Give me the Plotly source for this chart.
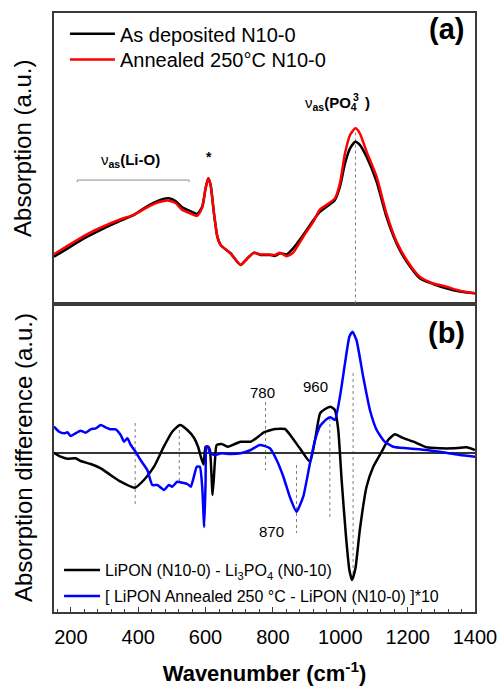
import plotly.graph_objects as go

# ---------------- Panel (a): absorption ----------------
wn_a = [150, 199, 249, 298, 348, 387, 417, 447, 472, 491, 511, 531, 551, 575, 590, 600, 608, 615,
        625, 635, 645, 674, 704, 724, 744, 763, 791, 806, 821, 841, 860, 890, 920, 940, 959, 984,
        999, 1014, 1029, 1045, 1058, 1078, 1108, 1137, 1167, 1197, 1236, 1276, 1315, 1355, 1400]
abs_deposited = [0.161, 0.196, 0.230, 0.259, 0.285, 0.305, 0.328, 0.347, 0.359, 0.362, 0.353, 0.331,
                 0.320, 0.308, 0.333, 0.396, 0.431, 0.408, 0.310, 0.230, 0.201, 0.173, 0.133, 0.155,
                 0.175, 0.167, 0.167, 0.164, 0.173, 0.169, 0.190, 0.236, 0.287, 0.316, 0.333, 0.356,
                 0.402, 0.482, 0.534, 0.557, 0.546, 0.505, 0.419, 0.299, 0.207, 0.144, 0.087, 0.067,
                 0.052, 0.041, 0.035]
abs_annealed = [0.170, 0.205, 0.239, 0.266, 0.290, 0.305, 0.325, 0.343, 0.352, 0.354, 0.346, 0.322,
                0.312, 0.302, 0.330, 0.396, 0.431, 0.408, 0.310, 0.230, 0.201, 0.173, 0.133, 0.155,
                0.175, 0.169, 0.169, 0.167, 0.175, 0.163, 0.175, 0.230, 0.282, 0.324, 0.339, 0.362,
                0.414, 0.517, 0.580, 0.603, 0.586, 0.523, 0.436, 0.310, 0.213, 0.150, 0.092, 0.069,
                0.058, 0.044, 0.035]

# ---------------- Panel (b): difference spectra ----------------
wn_b_black = [150, 170, 190, 214, 229, 259, 289, 318, 348, 390, 417, 447, 476, 501, 524, 546, 566,
              578, 586, 594, 600, 608, 613, 621, 628, 633, 648, 667, 687, 704, 734, 754, 773, 806,
              836, 855, 880, 910, 925, 940, 954, 971, 984, 994, 1004, 1017, 1027, 1035, 1045, 1058,
              1078, 1098, 1123, 1142, 1162, 1182, 1217, 1256, 1296, 1335, 1375, 1400]
diff_lipon_li3po4 = [0.003, -0.037, -0.057, -0.053, -0.080, -0.110, -0.153, -0.220, -0.287, -0.347,
                     -0.270, -0.137, 0.063, 0.213, 0.280, 0.230, 0.150, 0.060, -0.037, -0.115, 0.063,
                     0.063, 0.030, -0.420, -0.070, 0.080, 0.090, 0.063, 0.090, 0.113, 0.113, 0.157,
                     0.207, 0.240, 0.240, 0.163, 0.047, -0.087, 0.130, 0.397, 0.437, 0.463, 0.430,
                     0.230, -0.270, -0.837, -1.170, -1.270, -1.153, -0.770, -0.337, -0.137, 0.013,
                     0.130, 0.187, 0.157, 0.113, 0.057, 0.047, 0.047, 0.057, 0.030]

wn_b_blue = [150, 165, 180, 190, 199, 214, 229, 244, 259, 274, 289, 303, 318, 333, 348, 358, 368,
             378, 392, 407, 427, 442, 457, 477, 491, 501, 516, 531, 546, 556, 564, 574, 583, 590,
             596, 600, 603, 608, 613, 628, 648, 674, 704, 734, 761, 791, 811, 831, 850, 870, 890,
             910, 925, 940, 959, 971, 984, 999, 1014, 1027, 1036, 1048, 1068, 1088, 1108, 1132,
             1157, 1197, 1256, 1315, 1355, 1400]
diff_annealed_x10 = [0.263, 0.213, 0.197, 0.207, 0.170, 0.197, 0.223, 0.203, 0.237, 0.247, 0.280,
                     0.257, 0.237, 0.237, 0.180, 0.113, 0.147, 0.080, 0.013, -0.070, -0.170, -0.320,
                     -0.320, -0.370, -0.320, -0.337, -0.287, -0.297, -0.310, -0.337, -0.253, -0.137,
                     -0.137, -0.337, -0.740, -0.300, 0.063, 0.063, -0.003, -0.020, -0.003, -0.010,
                     -0.003, 0.030, 0.080, 0.047, -0.070, -0.237, -0.437, -0.587, -0.437, -0.103,
                     0.130, 0.270, 0.337, 0.357, 0.330, 0.563, 0.897, 1.163, 1.213, 1.130, 0.763,
                     0.430, 0.230, 0.113, 0.063, 0.047, 0.030, 0.003, -0.020, -0.037]

# peak markers (wavenumber, y-from, y-to)
marks_b = [(391, 0.30, -0.54), (522, 0.23, -0.30), (778, 0.51, -0.17),
           (870, -0.12, -0.80), (969, 0.35, -0.65), (1038, 0.80, -1.22)]
mark_a = (1045, 0.0, 0.60)

FONT = "Liberation Sans, Arial, sans-serif"
LW = 2.5

fig = go.Figure()
fig.add_trace(go.Scatter(x=wn_a, y=abs_deposited, name="As deposited N10-0", mode="lines",
                         line=dict(color="#000000", width=LW, shape="spline", smoothing=0.6),
                         xaxis="x2", yaxis="y2", legend="legend"))
fig.add_trace(go.Scatter(x=wn_a, y=abs_annealed, name="Annealed 250°C N10-0", mode="lines",
                         line=dict(color="#ff0000", width=LW, shape="spline", smoothing=0.6),
                         xaxis="x2", yaxis="y2", legend="legend2"))
fig.add_trace(go.Scatter(x=wn_b_black, y=diff_lipon_li3po4,
                         name="LiPON (N10-0) - Li<sub>3</sub>PO<sub>4</sub> (N0-10)", mode="lines",
                         line=dict(color="#000000", width=LW, shape="spline", smoothing=0.5),
                         xaxis="x", yaxis="y", legend="legend3"))
fig.add_trace(go.Scatter(x=wn_b_blue, y=diff_annealed_x10,
                         name="[ LiPON Annealed 250 °C - LiPON (N10-0) ]*10", mode="lines",
                         line=dict(color="#0000ff", width=LW, shape="spline", smoothing=0.5),
                         xaxis="x", yaxis="y", legend="legend4"))

shapes = []
for (xw, y0, y1) in marks_b:
    shapes.append(dict(type="line", xref="x", yref="y", x0=xw, x1=xw, y0=y0, y1=y1,
                       line=dict(color="#808080", width=1, dash="3px,3px"), layer="below"))
shapes.append(dict(type="line", xref="x2", yref="y2", x0=mark_a[0], x1=mark_a[0], y0=mark_a[1],
                   y1=mark_a[2], line=dict(color="#808080", width=1, dash="3px,3px"), layer="below"))
# bracket for Li-O
shapes.append(dict(type="path", xref="x2", yref="y2",
                   path="M 219,0.418 L 219,0.425 L 551,0.425 L 551,0.418",
                   line=dict(color="#8c8c8c", width=1)))

AX_COL = "#3a3a3a"
annotations = [
    dict(text="<b>(a)</b>", x=1316, y=0.945, xref="x2", yref="y2", showarrow=False,
         font=dict(size=29, color="#000", family=FONT)),
    dict(text="<b>(b)</b>", x=1316, y=1.20, xref="x", yref="y", showarrow=False,
         font=dict(size=29, color="#000", family=FONT)),
    dict(text="ν<sub><b>as</b></sub><b>(Li-O)</b>", x=378, y=0.494, xref="x2", yref="y2",
         showarrow=False, font=dict(size=15, color="#000", family=FONT)),
    dict(text="<b>*</b>", x=610, y=0.505, xref="x2", yref="y2", showarrow=False,
         font=dict(size=14, color="#000", family=FONT)),
    dict(text="ν<sub><b>as</b></sub><b>(PO</b><sub><b>4</b></sub><b>  )</b>",
         x=992, y=0.69, xref="x2", yref="y2", showarrow=False,
         font=dict(size=15, color="#000", family=FONT)),
    dict(text="<b>3</b>", x=1048, y=0.712, xref="x2", yref="y2", showarrow=False,
         font=dict(size=10.5, color="#000", family=FONT)),
    dict(text="780", x=770, y=0.61, xref="x", yref="y", showarrow=False,
         font=dict(size=15, color="#000", family=FONT)),
    dict(text="960", x=925, y=0.67, xref="x", yref="y", showarrow=False,
         font=dict(size=15, color="#000", family=FONT)),
    dict(text="870", x=797, y=-0.78, xref="x", yref="y", showarrow=False,
         font=dict(size=15, color="#000", family=FONT)),
    dict(text="Absorption (a.u.)", x=0, y=0.773, xref="paper", yref="paper", xshift=-31,
         xanchor="center", yanchor="middle",
         textangle=-90, showarrow=False, font=dict(size=24, color="#000", family=FONT)),
    dict(text="Absorption difference (a.u.)", x=0, y=0.257, xref="paper", yref="paper",
         xshift=-31, xanchor="center", yanchor="middle", textangle=-90, showarrow=False,
         font=dict(size=24, color="#000", family=FONT)),
]

def leg(x, y, size, iw):
    return dict(x=x, y=y, xanchor="left", yanchor="top", bgcolor="rgba(0,0,0,0)",
                borderwidth=0, font=dict(size=size, family=FONT, color="#000"), itemwidth=iw)

fig.update_layout(
    width=501, height=686,
    autosize=False,
    margin=dict(l=54, r=26, t=13, b=74, autoexpand=False),
    paper_bgcolor="white", plot_bgcolor="white",
    font=dict(family=FONT, color="#000"),
    showlegend=True,
    legend=leg(0.026, 0.998, 20, 45),
    legend2=leg(0.026, 0.955, 20, 45),
    legend3=leg(0.012, 0.0985, 16, 36),
    legend4=leg(0.012, 0.0551, 16, 36),
    xaxis=dict(domain=[0, 1], anchor="y", range=[150, 1400], tickmode="linear", tick0=200,
               dtick=200, ticks="inside", ticklen=5, tickwidth=1.2, tickcolor=AX_COL,
               minor=dict(ticks="inside", dtick=40, tick0=0, ticklen=3.5, tickwidth=1,
                          tickcolor=AX_COL),
               showline=True, linecolor=AX_COL, linewidth=1.5, mirror=True, showgrid=False,
               zeroline=False, tickfont=dict(size=20, family=FONT, color="#000"),
               ticklabelstandoff=6, automargin=False,
               title=dict(text="<b>Wavenumber (cm<sup>-1</sup>)</b>", standoff=20,
                          font=dict(size=22, family=FONT, color="#000"))),
    yaxis=dict(domain=[0, 0.515], anchor="x", range=[-1.59, 1.495], showticklabels=False,
               ticks="", showgrid=False, showline=True, linecolor=AX_COL, linewidth=1.5,
               mirror=True, zeroline=True, zerolinecolor="#333333", zerolinewidth=1.5,
               automargin=False),
    xaxis2=dict(domain=[0, 1], anchor="y2", matches="x", range=[150, 1400], showticklabels=False,
                ticks="", showgrid=False, showline=True, linecolor=AX_COL, linewidth=1.5,
                mirror=True, zeroline=False, automargin=False),
    yaxis2=dict(domain=[0.515, 1], anchor="x2", range=[0, 1], showticklabels=False, ticks="",
                showgrid=False, showline=True, linecolor=AX_COL, linewidth=1.5, mirror=True,
                zeroline=False, automargin=False),
    shapes=shapes,
    annotations=annotations,
)

fig.write_html("out.html", config={"displayModeBar": False},
               post_script="document.body.style.margin='0';document.body.style.overflow='hidden';")
